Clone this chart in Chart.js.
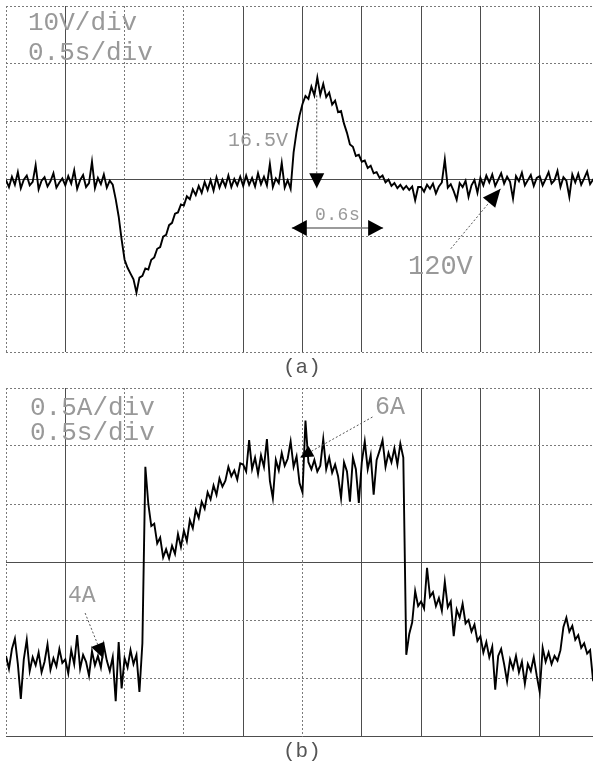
<!DOCTYPE html>
<html><head><meta charset="utf-8">
<script src="https://cdn.jsdelivr.net/npm/chart.js@4.4.0/dist/chart.umd.min.js"></script>
<style>
html,body{margin:0;padding:0;background:#fff;overflow:hidden;width:593px;height:764px;}
#wrap{position:relative;width:593px;height:764px;overflow:hidden;}
canvas{position:absolute;left:0;}
.t{position:absolute;font-family:"Liberation Mono","DejaVu Sans Mono",monospace;line-height:1;white-space:nowrap;color:#999;}
</style></head><body>
<div id="wrap">
<canvas id="ca" width="600" height="362" style="top:0"></canvas>
<canvas id="cb" width="600" height="364" style="top:380px"></canvas>
<div class="t" style="left:28px;top:10px;font-size:26px">10V/div</div>
<div class="t" style="left:28px;top:40px;font-size:26px">0.5s/div</div>
<div class="t" style="left:228px;top:131px;font-size:20px">16.5V</div>
<div class="t" style="left:315px;top:206px;font-size:18px;letter-spacing:0.5px">0.6s</div>
<div class="t" style="left:408px;top:254px;font-size:27px">120V</div>
<div class="t" style="left:283px;top:357px;font-size:21px;color:#555">(a)</div>
<div class="t" style="left:30px;top:395px;font-size:26px">0.5A/div</div>
<div class="t" style="left:30px;top:420px;font-size:26px">0.5s/div</div>
<div class="t" style="left:375px;top:395px;font-size:25px">6A</div>
<div class="t" style="left:68px;top:585px;font-size:23px">4A</div>
<div class="t" style="left:283px;top:741px;font-size:21px;color:#555">(b)</div>
</div>
<script>
// Sample interval of the scope record (s)
const SAMPLE_STEP = 0.025;

// (a) voltage trace, V (10 V/div, centre line = 120 V)
const voltageA = [
119.8,118.6,120.4,119.0,121.2,118.4,119.9,120.6,118.9,119.5,122.4,118.2,119.7,120.3,118.7,119.6,121.0,118.5,119.4,120.1,
118.9,120.5,119.2,121.5,118.3,119.8,120.7,118.6,119.3,123.0,118.4,120.2,119.1,120.8,118.5,119.7,119.0,116.5,113.5,109.5,
106.0,104.6,103.6,102.6,100.3,102.9,103.2,104.5,104.3,106.0,106.4,107.9,108.2,110.0,110.3,112.0,112.4,114.0,114.2,115.6,
115.4,117.0,116.5,118.2,117.2,118.8,117.6,119.5,118.1,119.8,118.0,120.3,118.5,119.9,118.7,120.6,118.6,120.0,118.9,120.4,
118.8,120.6,119.0,120.2,118.7,121.0,119.1,120.4,118.9,122.6,118.6,120.1,119.3,122.8,118.5,119.8,118.3,124.6,128.2,131.0,
133.0,134.4,133.9,136.0,134.5,137.6,134.6,136.5,134.2,135.0,132.9,133.6,131.6,131.8,129.6,128.0,126.0,125.6,124.0,124.2,
123.0,123.2,121.9,122.3,121.0,121.2,120.2,120.6,119.4,119.9,118.8,119.3,118.4,119.0,118.2,118.8,118.1,118.7,116.3,118.6,
118.6,117.8,119.0,118.3,119.2,117.5,118.7,119.4,123.4,118.5,119.1,117.9,116.4,119.3,118.6,119.7,116.9,118.9,119.8,117.6,
120.2,118.9,120.6,119.4,120.8,118.8,119.9,121.0,119.2,120.4,119.5,116.6,120.5,119.6,121.1,118.9,119.8,120.7,118.8,120.2,
120.5,118.9,120.0,121.2,119.2,119.8,121.4,118.6,120.3,119.7,116.9,120.8,119.4,120.9,119.0,120.1,121.3,119.1,119.9,120.4
];

// (b) current trace, A (0.5 A/div)
const currentB = [
4.19,4.08,4.25,4.34,4.12,3.82,4.16,4.33,4.06,4.18,4.11,4.22,4.05,4.14,4.29,4.07,4.17,4.10,4.25,4.13,
4.16,4.04,4.24,4.12,4.37,4.08,4.20,4.14,4.02,4.23,4.11,4.19,4.09,4.28,4.15,4.06,4.18,3.80,4.31,3.91,
4.17,4.09,4.24,4.12,4.20,3.88,4.30,5.82,5.50,5.31,5.33,5.16,5.21,5.04,5.11,5.03,5.14,5.07,5.24,5.13,
5.27,5.18,5.36,5.29,5.45,5.38,5.52,5.46,5.60,5.54,5.66,5.58,5.72,5.65,5.70,5.82,5.74,5.79,5.71,5.85,
5.84,5.78,6.05,5.80,5.90,5.76,5.92,5.82,6.06,5.70,5.55,5.88,5.79,5.94,5.83,5.89,6.04,5.82,5.91,5.68,
5.60,6.22,5.86,5.80,5.88,5.78,5.83,6.06,5.80,5.90,5.77,5.84,5.74,5.55,5.86,5.78,5.52,5.90,5.80,5.51,
5.86,6.04,5.80,5.92,5.58,5.88,5.96,6.05,5.82,5.94,5.86,5.98,5.84,6.02,5.90,4.20,4.38,4.48,4.75,4.62,
4.66,4.60,4.95,4.70,4.74,4.62,4.69,4.58,4.83,4.61,4.66,4.36,4.59,4.52,4.64,4.47,4.50,4.40,4.46,4.32,
4.36,4.22,4.31,4.18,4.27,3.90,4.19,4.25,4.12,3.97,4.16,4.08,4.19,4.05,4.14,3.95,4.12,4.06,4.18,4.02,
3.88,4.26,4.14,4.22,4.12,4.19,4.15,4.24,4.44,4.52,4.40,4.45,4.33,4.37,4.26,4.30,4.21,4.24,3.98,3.95
];

// Axis ranges (s, V, A)
const timeRange = [0, 5];           // 0.5 s/div, 10 div
const voltRange = [90, 150];        // 10 V/div
const ampRange  = [3.5, 6.5];       // 0.5 A/div

// Annotation arrows in data units: [time s, value]
const arrowsA = [
  {from:[2.62, 134.5], to:[2.62, 118.4], kind:'dotted', heads:['end'], head:[15,7.5]},
  {from:[2.41, 111.5], to:[3.18, 111.5], kind:'solid',  heads:['start','end'], head:[15,8]},
  {from:[3.75, 107.9], to:[4.17, 118.3], kind:'dotted', heads:['end'], head:[18,8]}
];
const arrowsB = [
  {from:[3.09, 6.25], to:[2.48, 5.90], kind:'dotted', heads:['end'], head:[13,6]},
  {from:[0.667, 4.56], to:[0.82, 4.17], kind:'dotted', heads:['end'], head:[15,7]}
];

const arrowPlugin = {
  id:'scopeArrows',
  afterDatasetsDraw(chart, args, opts){
    const ctx = chart.ctx, xs = chart.scales.x, ys = chart.scales.y;
    (opts.arrows||[]).forEach(a=>{
      const x1 = xs.getPixelForValue(a.from[0]), y1 = ys.getPixelForValue(a.from[1]);
      const x2 = xs.getPixelForValue(a.to[0]),   y2 = ys.getPixelForValue(a.to[1]);
      ctx.save();
      if (a.kind==='dotted'){ ctx.strokeStyle='#555'; ctx.lineWidth=1; ctx.setLineDash([2,2]); }
      else { ctx.strokeStyle='#7a7a7a'; ctx.lineWidth=1.6; ctx.setLineDash([]); }
      ctx.beginPath(); ctx.moveTo(x1,y1); ctx.lineTo(x2,y2); ctx.stroke();
      ctx.setLineDash([]);
      ctx.fillStyle='#000';
      const len = Math.hypot(x2-x1,y2-y1), ux=(x2-x1)/len, uy=(y2-y1)/len;
      const L=a.head[0], W=a.head[1];
      const drawHead=(tx,ty,dx,dy)=>{
        const bx=tx-L*dx, by=ty-L*dy;
        ctx.beginPath();
        ctx.moveTo(tx,ty);
        ctx.lineTo(bx - W*dy, by + W*dx);
        ctx.lineTo(bx + W*dy, by - W*dx);
        ctx.closePath(); ctx.fill();
      };
      if (a.heads.includes('end')) drawHead(x2,y2,ux,uy);
      if (a.heads.includes('start')) drawHead(x1,y1,-ux,-uy);
      ctx.restore();
    });
  }
};

function scope(id, values, yRange, yStep, solidX, solidY, pad, arrows){
  const pts = values.map((v,i)=>({x:i*SAMPLE_STEP, y:v}));
  const gridColor = solid => ctx => solid.includes(ctx.index) ? '#4d4d4d' : '#7a7a7a';
  const gridDash = solid => ctx => solid.includes(ctx.index) ? [] : [2,2];
  return new Chart(document.getElementById(id), {
    type:'line',
    data:{datasets:[{data:pts, borderColor:'#000', borderWidth:1.9, pointRadius:0, tension:0, fill:false}]},
    options:{
      responsive:false, animation:false, events:[],
      layout:{padding:pad},
      plugins:{legend:{display:false}, tooltip:{enabled:false}, scopeArrows:{arrows:arrows}},
      scales:{
        x:{type:'linear', min:timeRange[0], max:timeRange[1],
           ticks:{display:false, stepSize:0.5},
           grid:{drawTicks:false, lineWidth:1, color:gridColor(solidX)},
           border:{display:false, dash:gridDash(solidX)}},
        y:{type:'linear', min:yRange[0], max:yRange[1],
           ticks:{display:false, stepSize:yStep},
           grid:{drawTicks:false, lineWidth:1, color:gridColor(solidY)},
           border:{display:false, dash:gridDash(solidY)}}
      }
    },
    plugins:[arrowPlugin]
  });
}

scope('ca', voltageA, voltRange, 10, [1,4,5,6,7,8,9], [3], {left:6, right:1, top:6, bottom:10}, arrowsA);
scope('cb', currentB, ampRange, 0.5, [1,4,6,7,8,9], [0,3], {left:6, right:1, top:8, bottom:8}, arrowsB);
</script>
</body></html>
